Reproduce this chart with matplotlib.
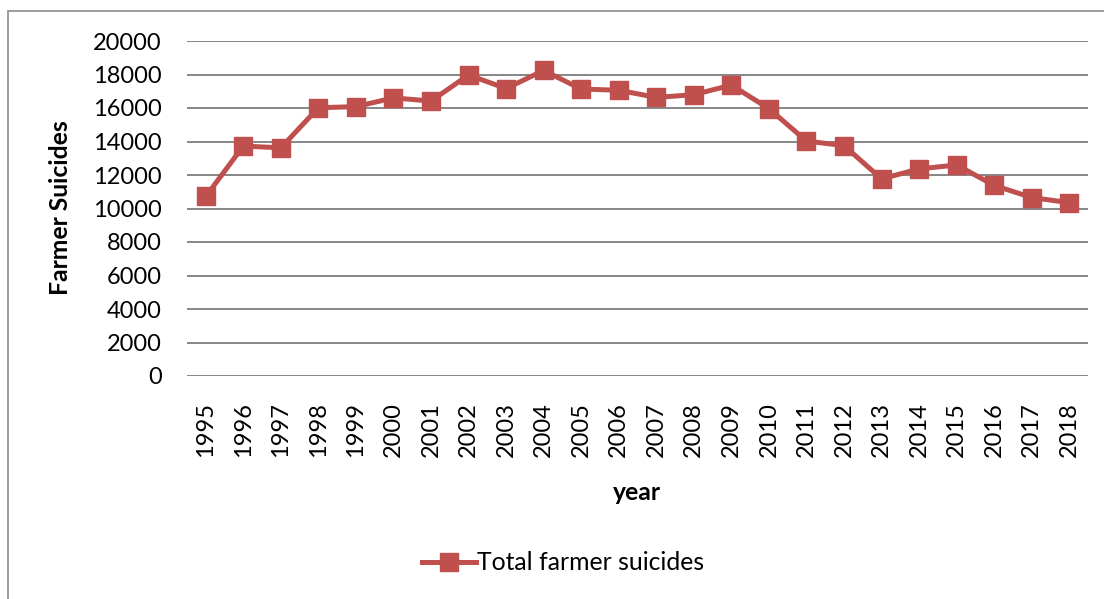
import matplotlib
matplotlib.use("Agg")
import matplotlib.pyplot as plt
from matplotlib.patches import Rectangle

years = [1995, 1996, 1997, 1998, 1999, 2000, 2001, 2002, 2003, 2004, 2005, 2006,
         2007, 2008, 2009, 2010, 2011, 2012, 2013, 2014, 2015, 2016, 2017, 2018]
suicides = [10720, 13729, 13622, 16015, 16082, 16603, 16415, 17971, 17164, 18241,
            17131, 17060, 16632, 16796, 17368, 15964, 14027, 13754, 11772, 12360,
            12602, 11379, 10655, 10349]
y_ticks = [0, 2000, 4000, 6000, 8000, 10000, 12000, 14000, 16000, 18000, 20000]

W, H = 1104, 599
plt.rcParams['font.family'] = ['Lato', 'DejaVu Sans']

fig = plt.figure(figsize=(W / 100, H / 100), dpi=100)
fig.patch.set_facecolor('white')

# chart-area border
fig.patches.append(Rectangle((8 / W, -0.05), 1.2, 1 - 11 / H + 0.05,
                             transform=fig.transFigure, fill=False,
                             edgecolor='#8c8c8c', linewidth=1.2))

left, right, top, bottom = 187, 1088, 41, 376
ax = fig.add_axes([left / W, 1 - bottom / H, (right - left) / W, (bottom - top) / H])

x = list(range(len(years)))
line, = ax.plot(x, suicides, color='#C0504D', linewidth=3.6, marker='s',
                markersize=13, markeredgecolor='#C0504D', markerfacecolor='#C0504D',
                label='Total farmer suicides', zorder=3)

ax.set_xlim(-0.5, len(years) - 0.5)
ax.set_ylim(0, 20000)
ax.set_yticks(y_ticks)
ax.set_yticklabels([str(v) for v in y_ticks])
ax.set_xticks(x)
ax.set_xticklabels([str(y) for y in years], rotation=90)

for s in ax.spines.values():
    s.set_visible(False)
ax.grid(axis='y', color='#868686', linewidth=1.4)
ax.set_axisbelow(True)
ax.tick_params(axis='both', length=0, labelsize=17, colors='black')
ax.tick_params(axis='y', pad=18)
ax.tick_params(axis='x', pad=19)

fig.text(60 / W, 1 - 208 / H, 'Farmer Suicides', rotation=90, ha='center',
         va='center', fontsize=17.8, fontweight='bold')
fig.text(637 / W, 1 - 493 / H, 'year', ha='center', va='center',
         fontsize=17.8, fontweight='bold')

fig.legend(handles=[line], loc='center', bbox_to_anchor=(563 / W, 1 - 563 / H),
           frameon=False, fontsize=17.8, handlelength=2.2, handletextpad=0.05,
           markerscale=1.0)

fig.savefig('out.png', dpi=100, facecolor='white')
